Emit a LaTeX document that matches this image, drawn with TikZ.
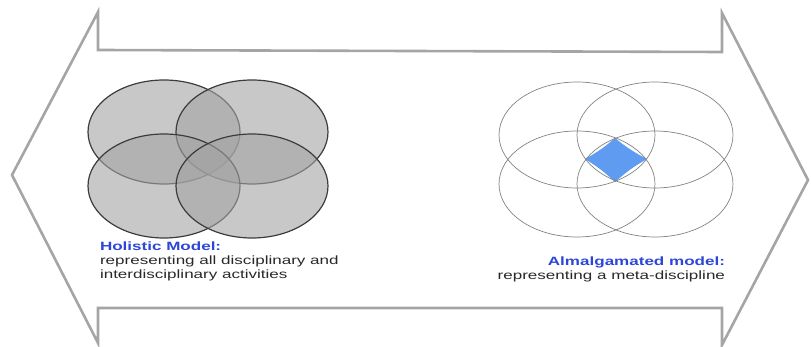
\documentclass[tikz,border=0pt]{standalone}
\usepackage{fontspec}
\setmainfont{Liberation Sans}
\definecolor{arrowgrey}{RGB}{165,165,165}
\definecolor{rimgrey}{RGB}{60,60,60}
\definecolor{ringfill}{RGB}{163,163,163}
\definecolor{thingrey}{RGB}{130,130,130}
\definecolor{metablue}{RGB}{95,155,240}
\definecolor{titleblue}{RGB}{45,70,215}
\definecolor{textgrey}{RGB}{40,40,40}
\usetikzlibrary{positioning}
\tikzstyle{base}=[x=1pt, y=-1pt, inner sep=0pt, outer sep=0pt]
\tikzstyle{holiring}=[rimgrey, line width=1.2pt, fill=ringfill, fill opacity=0.6]
\tikzstyle{amalring}=[thingrey, line width=0.7pt]
\tikzstyle{caption}=[align=left, font=\fontsize{12}{13.8}\selectfont, text=textgrey, xscale=1.42, transform shape]
\newcommand*{\titletext}[1]{\textcolor{titleblue}{\textbf{#1}}}

\begin{document}
\begin{tikzpicture}[base]
    \path [use as bounding box] (0,0) rectangle (811,347);
        % double arrow outline
        \draw [arrowgrey, line width=2.6pt, line join=miter]
            (12,175) -- (98,12) -- (98,50) -- (722,52) -- (722,13) -- (808,180)
            -- (722,345) -- (722,308) -- (98,308) -- (98,343) -- cycle;
        % holistic model
        \draw [holiring] (164,132) ellipse [x radius=76, y radius=52];
        \draw [holiring] (252,132) ellipse [x radius=76, y radius=52];
        \draw [holiring] (164,186) ellipse [x radius=76, y radius=52];
        \draw [holiring] (252,186) ellipse [x radius=76, y radius=52];
        \node [caption, anchor=north west] (holistic) at (100,242)
            {\titletext{Holistic Model:}\\
             representing all disciplinary and\\
             interdisciplinary activities};
        % amalgamated model
        \fill [metablue] (615,138) to [bend left=6] (585,159)
            to [bend left=6] (615,182) to [bend left=6] (647,159)
            to [bend left=6] cycle;
        \draw [amalring] (577,135) ellipse [x radius=78, y radius=53];
        \draw [amalring] (655,135) ellipse [x radius=78, y radius=53];
        \draw [amalring] (577,184) ellipse [x radius=78, y radius=53];
        \draw [amalring] (655,184) ellipse [x radius=78, y radius=53];
        \node [caption, align=right, anchor=north east] (amalgam) at (725,257)
            {\titletext{Almalgamated model:}\\
             representing a meta-discipline};
    \end{tikzpicture}
\end{document}
